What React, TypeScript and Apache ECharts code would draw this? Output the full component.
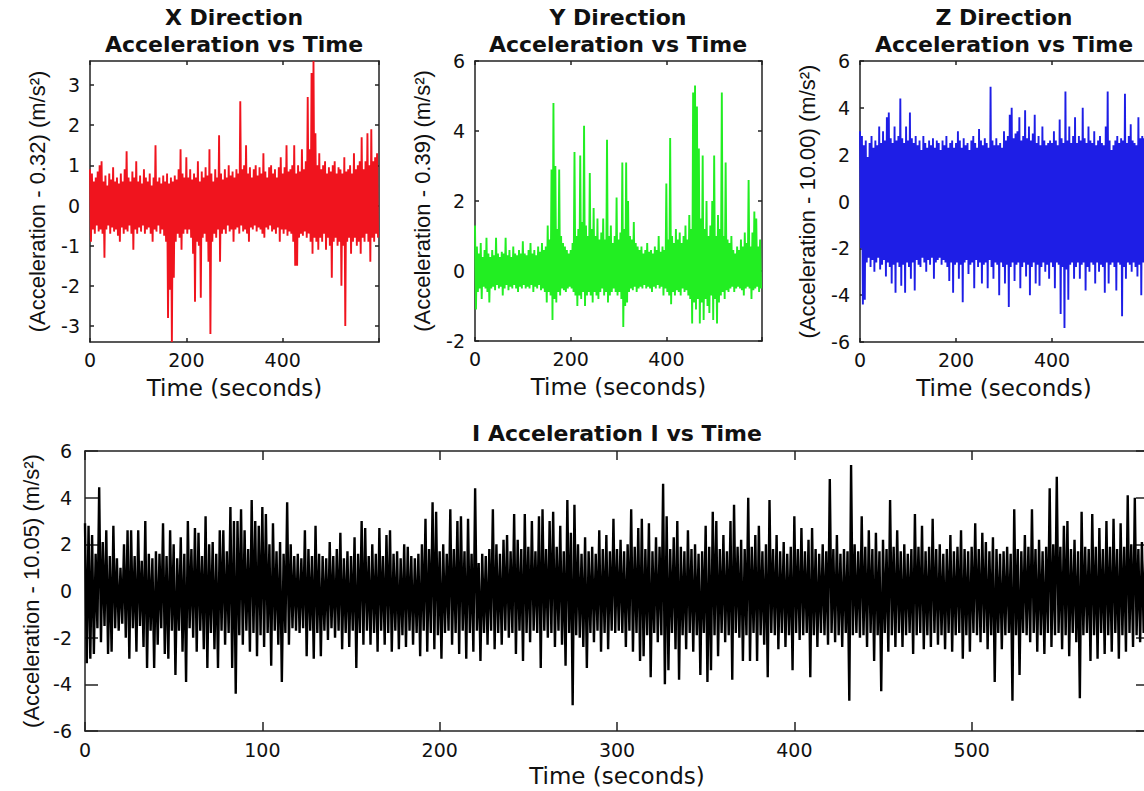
import React, { useEffect, useRef } from "react";
import * as echarts from "echarts";

// ---------- data ----------
const TIME_MAX = 600;
const TOP_STEP = 4; // seconds between successive peak readings in the three top panels
const BOTTOM_STEP = 2; // seconds between successive peak readings in the bottom panel

const xTickValues = [-3, -2, -1, 0, 1, 2, 3];
const yTickValues = [-2, 0, 2, 4, 6];
const zTickValues = [-6, -4, -2, 0, 2, 4, 6];
const magTickValues = [-6, -4, -2, 0, 2, 4, 6];

// X direction: upper peaks (t = 0,4,8,...) and lower troughs (t = 2,6,10,...)
const xUpper = [
  0.9, 0.8, 0.6, 0.7, 0.85, 1.0, 1.1, 0.6, 0.75, 0.5, 0.8, 0.65, 0.95, 0.6, 0.7, 0.55, 0.8, 0.6, 0.9, 1.35, 0.7, 0.6, 0.85, 0.7, 1.1,
  0.6, 0.75, 0.55, 0.9, 0.7, 0.6, 0.8, 0.5, 0.7, 1.5, 0.6, 0.7, 0.55, 0.75, 0.6, 0.8, 0.55, 0.7, 0.6, 0.75, 0.65, 0.9, 1.4, 0.8, 0.7,
  1.2, 0.7, 0.9, 0.65, 0.8, 0.7, 1.1, 0.6, 0.85, 0.7, 0.95, 0.75, 1.4, 0.8, 0.6, 0.9, 0.7, 1.75, 0.8, 0.65, 0.9, 0.7, 1.0, 0.75, 0.85,
  0.7, 0.9, 0.8, 2.6, 0.9, 1.0, 1.5, 0.8, 0.95, 0.7, 0.9, 1.0, 0.75, 0.95, 0.8, 1.3, 0.85, 0.7, 0.95, 1.0, 0.8, 0.9, 0.7, 0.95, 1.2,
  0.8, 0.95, 1.5, 0.85, 0.9, 1.0, 1.5, 0.8, 1.0, 0.85, 1.4, 0.9, 1.1, 2.7, 1.4, 3.3, 3.6, 1.8, 1.0, 1.3, 0.9, 1.0, 1.1, 0.8, 0.95,
  0.85, 1.0, 1.1, 0.8, 0.95, 0.9, 0.8, 1.2, 0.85, 0.9, 1.0, 0.8, 1.3, 0.9, 1.0, 1.1, 1.7, 0.9, 1.1, 1.8, 1.0, 1.9, 1.1, 1.2, 1.3,
];
const xLower = [
  -0.9, -0.6, -0.7, -0.5, -0.65, -0.6, -0.7, -1.3, -0.6, -0.5, -0.7, -0.55, -0.65, -0.6, -0.75, -0.9, -0.55, -0.7, -0.6, -0.65, -0.5, -0.7, -1.1, -0.6, -0.7,
  -0.55, -0.65, -0.5, -0.7, -0.6, -0.55, -0.7, -0.9, -0.6, -0.65, -0.5, -0.7, -0.6, -0.75, -0.9, -2.8, -2.1, -3.4, -1.8, -0.9, -0.7, -0.8, -1.1, -0.7, -0.6,
  -0.7, -0.6, -0.8, -1.2, -2.4, -0.9, -1.0, -2.3, -0.8, -0.7, -0.9, -1.4, -3.2, -0.9, -0.7, -0.8, -0.6, -1.4, -0.7, -0.6, -0.7, -0.5, -0.65, -0.6, -0.9,
  -0.6, -0.55, -0.7, -0.5, -0.65, -0.6, -0.7, -0.9, -0.55, -0.6, -0.5, -0.65, -0.55, -0.6, -0.7, -0.8, -0.55, -0.6, -0.5, -0.65, -0.6, -0.7, -0.55, -0.9, -0.6,
  -0.7, -0.6, -0.75, -0.65, -0.7, -0.9, -1.5, -1.5, -0.8, -0.7, -0.75, -0.65, -0.8, -0.7, -0.9, -1.2, -0.8, -0.9, -1.1, -0.8, -0.9, -0.7, -1.1, -0.8, -1.0,
  -1.8, -0.9, -0.8, -1.0, -0.9, -2.0, -1.0, -3.0, -0.9, -0.8, -1.2, -0.9, -0.8, -1.0, -0.9, -1.2, -0.8, -0.9, -0.7, -0.9, -1.4, -0.8, -0.9, -0.7, -0.8,
];

// Y direction
const yUpper = [
  1.3, 0.7, 0.5, 0.8, 0.4, 0.6, 0.95, 0.5, 0.4, 0.6, 0.45, 0.95, 0.5, 0.4, 0.55, 0.5, 0.95, 0.45, 0.6, 0.4, 0.7, 0.5, 0.45, 0.6, 0.5,
  0.85, 0.5, 0.45, 0.6, 0.8, 0.5, 0.6, 0.45, 0.7, 0.55, 0.8, 0.6, 0.7, 1.3, 0.9, 2.9, 4.8, 3.0, 1.2, 2.9, 1.0, 0.8, 0.7, 0.6, 0.5,
  0.6, 0.8, 3.4, 1.0, 1.2, 3.3, 1.4, 4.15, 1.3, 1.0, 2.8, 1.2, 1.8, 1.0, 1.5, 0.9, 1.1, 1.5, 0.9, 3.75, 1.0, 1.3, 0.8, 1.0, 2.1,
  0.9, 1.1, 3.1, 1.2, 3.1, 2.0, 1.0, 0.9, 1.4, 0.8, 0.7, 0.6, 0.7, 0.5, 0.6, 0.8, 0.55, 0.6, 0.5, 0.7, 0.6, 1.0, 0.55, 0.7, 0.6,
  2.5, 0.9, 3.8, 1.0, 0.8, 1.2, 0.9, 1.1, 0.8, 1.0, 1.3, 0.9, 1.6, 1.2, 5.1, 5.3, 4.7, 3.5, 1.5, 3.3, 1.2, 2.0, 1.0, 1.3, 2.0,
  3.3, 1.0, 1.6, 1.2, 5.1, 1.0, 3.1, 0.9, 0.8, 1.0, 0.6, 0.5, 0.7, 0.6, 0.9, 0.7, 1.1, 0.8, 2.6, 0.7, 1.1, 1.7, 1.5, 0.7, 0.9,
];
const yLower = [
  -1.1, -0.6, -0.5, -0.8, -0.45, -0.5, -0.6, -0.9, -0.5, -0.45, -0.55, -0.4, -0.5, -0.45, -0.7, -0.5, -0.4, -0.55, -0.45, -0.5, -0.4, -0.5, -0.6, -0.45, -0.5,
  -0.4, -0.5, -0.45, -0.5, -0.4, -0.6, -0.45, -0.5, -0.4, -0.55, -0.5, -0.6, -0.9, -0.6, -0.7, -1.4, -0.8, -0.9, -0.6, -0.7, -0.5, -0.55, -0.6, -0.5, -0.45,
  -0.5, -0.6, -0.7, -1.0, -0.7, -0.8, -0.6, -1.0, -0.7, -0.6, -0.7, -0.9, -0.6, -0.7, -0.8, -0.6, -0.5, -0.7, -0.6, -0.9, -0.7, -0.6, -0.5, -0.6, -0.7,
  -0.6, -0.8, -1.6, -1.0, -0.9, -0.6, -0.5, -0.55, -0.45, -0.6, -0.5, -0.45, -0.5, -0.4, -0.5, -0.45, -0.5, -0.6, -0.45, -0.5, -0.4, -0.5, -0.45, -0.7, -0.5,
  -0.6, -0.7, -0.95, -0.6, -0.7, -0.55, -0.6, -0.7, -0.5, -0.6, -0.55, -0.7, -0.8, -1.5, -0.9, -1.1, -0.8, -1.5, -0.9, -1.4, -0.8, -1.0, -1.2, -0.7, -1.4,
  -0.8, -1.5, -0.9, -0.7, -0.6, -0.8, -0.55, -0.6, -0.5, -0.45, -0.6, -0.5, -0.45, -0.5, -0.55, -0.7, -0.5, -0.45, -0.5, -0.8, -0.55, -0.5, -0.45, -0.6, -0.5,
];

// Z direction
const zUpper = [
  3.0, 2.8, 2.4, 2.6, 1.9, 2.5, 2.8, 2.3, 2.6, 2.4, 3.2, 2.5, 3.0, 2.6, 3.6, 3.8, 2.7, 2.5, 3.2, 2.6, 2.8, 4.4, 2.7, 2.5, 3.2,
  2.6, 3.8, 2.7, 2.5, 2.8, 2.4, 2.6, 2.2, 2.8, 2.5, 2.3, 2.6, 2.4, 2.7, 2.3, 2.6, 2.5, 2.2, 2.6, 2.4, 2.8, 2.3, 2.5, 2.6, 2.3,
  2.5, 3.0, 2.6, 2.3, 2.7, 2.4, 2.5, 2.2, 2.6, 2.8, 2.5, 2.3, 3.1, 2.6, 2.4, 2.7, 2.5, 2.3, 4.9, 2.6, 2.4, 2.7, 2.4, 2.5, 2.3,
  3.0, 2.6, 2.8, 3.7, 4.0, 2.7, 2.9, 3.0, 3.6, 2.6, 2.8, 3.9, 2.7, 3.2, 2.6, 2.9, 3.7, 2.5, 2.8, 2.4, 3.2, 2.6, 2.4, 2.5, 2.6,
  2.5, 3.0, 2.6, 2.4, 3.5, 2.7, 2.5, 4.7, 2.6, 3.2, 2.5, 2.8, 3.6, 2.5, 2.8, 2.6, 4.0, 2.7, 2.5, 3.2, 2.6, 2.5, 3.0, 2.4, 2.6,
  2.8, 2.5, 2.4, 3.2, 4.7, 2.6, 2.2, 2.4, 2.6, 2.8, 2.5, 2.7, 2.6, 4.6, 2.5, 2.8, 3.3, 2.6, 2.5, 2.4, 3.6, 2.7, 2.8, 2.7, 4.0,
];
const zLower = [
  -2.0, -4.4, -4.2, -2.6, -2.4, -2.8, -2.5, -3.0, -2.6, -2.4, -2.9, -2.7, -2.5, -3.2, -2.6, -2.8, -3.5, -2.7, -3.9, -2.6, -2.8, -3.6, -2.7, -3.9, -2.6,
  -2.8, -3.3, -2.6, -3.8, -2.5, -2.7, -2.8, -2.4, -2.6, -3.0, -2.5, -2.7, -2.4, -3.3, -2.6, -2.5, -2.4, -2.7, -2.5, -2.6, -2.8, -3.4, -2.6, -3.9, -2.7,
  -2.6, -3.3, -2.7, -4.3, -2.6, -2.5, -3.1, -2.7, -2.6, -3.7, -2.5, -2.8, -2.6, -3.5, -2.7, -2.6, -3.7, -2.5, -2.8, -3.3, -2.6, -2.7, -4.0, -2.6, -2.8,
  -3.5, -2.7, -4.5, -2.8, -2.6, -3.4, -2.7, -2.6, -3.7, -2.8, -2.6, -3.2, -2.7, -4.0, -2.8, -2.6, -3.5, -2.7, -3.6, -2.8, -2.6, -3.0, -2.7, -3.3, -2.6,
  -2.8, -3.7, -2.6, -2.7, -4.8, -2.8, -5.4, -2.9, -4.2, -2.7, -2.6, -3.3, -2.8, -2.6, -3.3, -2.7, -2.6, -3.8, -2.8, -3.0, -2.6, -2.7, -3.5, -2.6, -3.0,
  -2.7, -2.8, -3.9, -2.6, -3.5, -2.7, -2.6, -2.8, -3.8, -2.6, -2.7, -4.9, -2.8, -3.3, -2.6, -2.7, -3.0, -2.6, -2.8, -3.2, -2.7, -4.0, -2.6, -3.0, -2.8,
];

// |Acceleration|: upper peaks (t = 0,2,4,...) and lower troughs (t = 1,3,5,...)
const magUpper = [
  2.9, 2.8, 2.4, 1.6, 4.45, 2.1, 2.6, 1.5, 2.8, 1.4, 1.0, 2.0, 2.6, 2.6, 1.5, 2.6, 1.3, 3.0, 1.6, 1.4, 1.7, 1.6, 2.9, 1.5, 2.6,
  2.0, 1.4, 2.3, 1.6, 3.0, 1.8, 2.7, 2.5, 1.5, 3.2, 2.0, 2.1, 1.6, 2.6, 2.6, 1.7, 3.6, 3.0, 3.0, 3.5, 2.6, 1.8, 3.9, 3.0, 2.8,
  3.6, 3.3, 2.0, 2.9, 1.7, 2.1, 1.6, 3.8, 2.0, 1.5, 1.6, 1.4, 2.6, 1.8, 1.5, 2.8, 1.6, 1.5, 1.4, 2.1, 1.5, 1.8, 2.5, 1.4, 1.7,
  1.5, 2.3, 1.6, 3.0, 2.7, 1.5, 2.0, 1.6, 2.7, 1.5, 2.4, 2.6, 1.6, 1.7, 1.4, 2.0, 1.9, 1.5, 1.4, 1.6, 2.0, 3.1, 1.8, 3.8, 3.4,
  1.7, 2.0, 1.6, 3.5, 1.8, 3.0, 3.2, 1.7, 3.1, 1.6, 4.4, 1.2, 1.6, 1.5, 1.8, 3.5, 2.0, 1.6, 2.2, 2.4, 1.7, 3.3, 2.2, 1.8, 3.3,
  1.9, 3.0, 1.7, 3.2, 3.5, 1.8, 3.0, 3.4, 1.9, 2.8, 1.7, 3.9, 2.5, 3.7, 2.0, 1.6, 2.3, 1.7, 1.9, 1.6, 2.6, 1.8, 2.4, 1.7, 3.1,
  1.8, 2.2, 1.7, 2.0, 3.5, 1.9, 2.7, 3.1, 1.8, 2.9, 1.7, 2.3, 1.9, 4.6, 3.2, 1.8, 2.3, 3.0, 1.9, 1.7, 2.6, 1.8, 2.0, 1.6, 1.7,
  2.8, 1.9, 3.4, 3.0, 1.8, 2.4, 1.7, 3.0, 3.7, 1.9, 2.2, 1.8, 4.0, 1.9, 2.4, 2.8, 1.7, 2.0, 3.9, 1.8, 2.4, 1.7, 2.1, 1.6, 1.9,
  3.2, 1.8, 2.7, 1.7, 2.2, 2.7, 1.8, 1.6, 2.0, 1.7, 4.8, 1.8, 2.4, 1.6, 1.8, 1.7, 5.4, 2.0, 1.7, 3.2, 1.9, 2.6, 1.8, 2.5, 1.7,
  2.2, 1.8, 3.9, 1.9, 2.6, 1.7, 2.0, 1.6, 1.8, 3.3, 1.9, 2.8, 1.7, 1.9, 3.1, 1.8, 2.0, 1.6, 1.8, 2.4, 1.7, 1.9, 2.6, 1.8, 1.7,
  1.9, 2.9, 1.8, 2.5, 2.1, 1.7, 2.3, 1.8, 1.6, 1.7, 1.9, 1.6, 3.5, 1.8, 1.7, 2.4, 1.9, 3.5, 1.8, 2.2, 1.7, 1.9, 4.4, 2.0, 4.9,
  1.9, 2.8, 3.0, 1.8, 2.2, 1.7, 3.4, 1.9, 1.8, 3.3, 1.9, 2.7, 1.8, 3.0, 1.9, 3.1, 1.8, 2.9, 1.9, 4.1, 2.0, 4.0, 1.8, 2.1, 1.9,
];
const magLower = [
  -3.1, -2.9, -2.7, -1.6, -2.2, -1.5, -2.7, -2.6, -1.6, -1.7, -1.4, -2.0, -2.9, -1.6, -2.6, -1.5, -2.4, -3.3, -1.7, -3.3, -2.3, -1.6, -2.7, -2.9, -1.7,
  -3.6, -1.7, -2.6, -3.9, -1.6, -2.0, -2.6, -1.7, -2.5, -3.3, -1.8, -2.5, -3.3, -1.7, -2.3, -1.8, -3.3, -4.4, -1.9, -2.3, -1.7, -2.6, -1.8, -2.8, -1.9,
  -2.4, -1.8, -3.2, -1.7, -2.3, -3.9, -1.8, -2.3, -1.6, -1.7, -1.8, -1.6, -2.8, -1.7, -2.9, -1.8, -2.8, -1.7, -2.1, -1.6, -2.0, -1.7, -2.5, -1.8, -2.4,
  -1.7, -3.3, -1.8, -2.3, -1.7, -2.3, -1.8, -2.6, -1.7, -2.3, -1.8, -2.6, -1.7, -2.5, -1.9, -2.4, -1.7, -2.3, -1.8, -2.8, -1.7, -2.6, -1.8, -2.5, -1.9,
  -2.9, -1.8, -1.7, -2.3, -1.8, -2.7, -1.7, -2.9, -1.8, -2.6, -1.7, -3.0, -1.8, -2.3, -1.7, -2.5, -1.8, -2.3, -1.7, -2.0, -1.8, -2.7, -1.7, -3.0, -1.8,
  -2.2, -1.7, -1.8, -3.3, -1.7, -2.0, -1.8, -2.4, -1.7, -2.3, -3.2, -1.8, -4.9, -1.9, -2.0, -2.4, -3.3, -1.8, -2.2, -1.7, -2.6, -1.8, -2.5, -1.7, -1.8,
  -1.7, -1.8, -2.4, -1.7, -2.6, -1.8, -3.0, -2.8, -1.9, -3.7, -1.8, -2.2, -1.9, -4.0, -3.4, -1.8, -2.5, -3.8, -1.9, -2.5, -1.8, -2.6, -1.9, -3.6, -1.8,
  -3.9, -3.4, -1.9, -2.8, -1.8, -2.2, -1.9, -3.8, -1.8, -2.0, -3.0, -1.9, -3.0, -1.8, -3.0, -1.9, -2.3, -3.7, -1.8, -1.9, -2.5, -1.8, -2.4, -1.9, -3.4,
  -1.8, -2.1, -1.9, -1.8, -3.7, -1.9, -2.4, -1.8, -1.9, -2.3, -1.8, -2.2, -1.9, -2.4, -1.8, -4.7, -1.9, -1.8, -2.0, -1.9, -2.4, -1.8, -3.0, -1.9, -4.3,
  -1.8, -2.6, -1.9, -2.4, -1.8, -2.4, -1.9, -1.8, -2.7, -1.9, -1.8, -2.5, -1.9, -2.4, -1.8, -2.3, -1.9, -2.5, -1.8, -2.6, -1.9, -1.8, -2.9, -1.9, -2.6,
  -1.8, -1.9, -2.2, -1.8, -2.5, -1.9, -3.9, -1.8, -2.5, -1.9, -1.8, -4.7, -1.9, -3.6, -1.8, -1.9, -2.2, -1.8, -2.6, -1.9, -2.7, -1.8, -2.4, -1.9, -1.8,
  -2.5, -1.9, -2.8, -1.8, -2.2, -4.6, -1.9, -1.8, -3.0, -1.9, -2.9, -1.8, -2.7, -1.9, -2.6, -1.8, -2.9, -1.9, -2.6, -1.8, -2.4, -1.9, -2.2, -1.8, -1.9,
];

// ---------- helpers ----------
function peaksToLine(upper: number[], lower: number[], step: number) {
  const out: number[][] = [];
  for (let i = 0; i < upper.length; i++) {
    out.push([i * step, upper[i]]);
    if (i < lower.length) out.push([i * step + step / 2, lower[i]]);
  }
  return out;
}

const FRAME = "#222";
const TEXT = "#111";
const tickFont = { fontFamily: "DejaVu Sans", fontSize: 19, color: TEXT };
const xNameFont = { fontFamily: "DejaVu Sans", fontSize: 23, color: TEXT };
const yNameFont = { fontFamily: "Liberation Sans", fontSize: 22, color: TEXT };
const titleFont = {
  fontFamily: "DejaVu Sans",
  fontWeight: "bold" as const,
  fontSize: 22,
  lineHeight: 27,
  color: TEXT,
};

function timeAxes(gridIndex: number, interval: number, tickLen: number, labelMargin: number, nameGap: number) {
  const axisLine = { show: true, onZero: false, lineStyle: { color: FRAME, width: 1.5 } };
  const axisTick = { show: true, inside: true, length: tickLen, lineStyle: { color: FRAME, width: 1.5 } };
  return [
    {
      type: "value",
      gridIndex,
      position: "bottom",
      min: 0,
      max: TIME_MAX,
      interval,
      axisLine,
      axisTick,
      axisLabel: {
        ...tickFont,
        margin: labelMargin,
        formatter: (v: number) => (v >= TIME_MAX ? "" : String(v)),
      },
      splitLine: { show: false },
      name: "Time (seconds)",
      nameLocation: "middle",
      nameGap,
      nameTextStyle: xNameFont,
    },
    {
      type: "value",
      gridIndex,
      position: "top",
      min: 0,
      max: TIME_MAX,
      interval,
      axisLine,
      axisTick,
      axisLabel: { show: false },
      splitLine: { show: false },
    },
  ];
}

function valueAxes(
  gridIndex: number,
  min: number,
  max: number,
  ticks: number[],
  tickLen: number,
  labelMargin: number,
  name: string,
  nameGap: number
) {
  const axisLine = { show: true, onZero: false, lineStyle: { color: FRAME, width: 1.5 } };
  const axisTick = {
    show: true,
    inside: true,
    length: tickLen,
    customValues: ticks,
    lineStyle: { color: FRAME, width: 1.5 },
  };
  return [
    {
      type: "value",
      gridIndex,
      position: "left",
      min,
      max,
      axisLine,
      axisTick,
      axisLabel: { ...tickFont, margin: labelMargin, customValues: ticks },
      splitLine: { show: false },
      name,
      nameLocation: "middle",
      nameRotate: 90,
      nameGap,
      nameTextStyle: yNameFont,
    },
    {
      type: "value",
      gridIndex,
      position: "right",
      min,
      max,
      axisLine,
      axisTick,
      axisLabel: { show: false },
      splitLine: { show: false },
    },
  ];
}

function lineSeries(index: number, data: number[][], color: string, width: number) {
  return {
    type: "line",
    xAxisIndex: index * 2,
    yAxisIndex: index * 2,
    data,
    showSymbol: false,
    symbol: "none",
    clip: true,
    silent: true,
    lineStyle: { color, width, join: "miter" },
    itemStyle: { color },
  };
}

export default function App() {
  const ref = useRef<HTMLDivElement | null>(null);

  useEffect(() => {
    if (!ref.current) return;
    const chart = echarts.init(ref.current, undefined, { renderer: "svg" });
    const option: any = {
      animation: false,
      backgroundColor: "#fff",
      title: [
        { text: "X Direction\nAcceleration vs Time", left: 234, top: 4, textAlign: "center", padding: 0, textStyle: titleFont },
        { text: "Y Direction\nAcceleration vs Time", left: 618, top: 4, textAlign: "center", padding: 0, textStyle: titleFont },
        { text: "Z Direction\nAcceleration vs Time", left: 1004, top: 4, textAlign: "center", padding: 0, textStyle: titleFont },
        { text: "I Acceleration I vs Time", left: 617, top: 420, textAlign: "center", padding: 0, textStyle: titleFont },
      ],
      grid: [
        { left: 90, top: 61, width: 289, height: 281 },
        { left: 475, top: 61, width: 287, height: 280 },
        { left: 860, top: 61, width: 288, height: 281 },
        { left: 85, top: 451, width: 1064, height: 280 },
      ],
      xAxis: [
        ...timeAxes(0, 200, 4, 8, 34),
        ...timeAxes(1, 200, 4, 8, 34),
        ...timeAxes(2, 200, 4, 8, 34),
        ...timeAxes(3, 100, 9, 9, 33),
      ],
      yAxis: [
        ...valueAxes(0, -3.4, 3.6, xTickValues, 4, 10, "(Acceleration - 0.32) (m/s²)", 42),
        ...valueAxes(1, -2, 6, yTickValues, 4, 10, "(Acceleration - 0.39) (m/s²)", 42),
        ...valueAxes(2, -6, 6, zTickValues, 4, 10, "(Acceleration - 10.00) (m/s²)", 42),
        ...valueAxes(3, -6, 6, magTickValues, 13, 13, "(Acceleration - 10.05) (m/s²)", 42),
      ],
      series: [
        lineSeries(0, peaksToLine(xUpper, xLower, TOP_STEP), "#f0141e", 1.9),
        lineSeries(1, peaksToLine(yUpper, yLower, TOP_STEP), "#22ee22", 1.9),
        lineSeries(2, peaksToLine(zUpper, zLower, TOP_STEP), "#1e1ee6", 1.9),
        lineSeries(3, peaksToLine(magUpper, magLower, BOTTOM_STEP), "#000000", 2.4),
      ],
    };
    chart.setOption(option);
    return () => {
      chart.dispose();
    };
  }, []);

  return (
    <div
      style={{
        position: "fixed",
        left: 0,
        top: 0,
        width: 1144,
        height: 791,
        overflow: "hidden",
        background: "#fff",
      }}
    >
      <div ref={ref} style={{ width: 1160, height: 791 }} />
    </div>
  );
}
